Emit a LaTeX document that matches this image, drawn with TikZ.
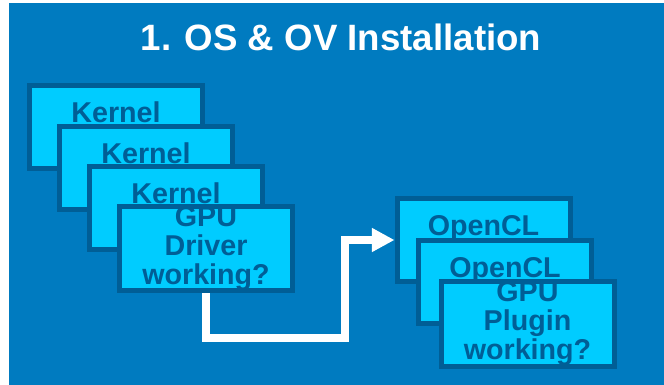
\documentclass[tikz,border=0pt]{standalone}
\usepackage{fontspec}
\setmainfont{Liberation Sans}
\usetikzlibrary{arrows.meta}

\definecolor{slideblue}{RGB}{0,123,192}
\definecolor{boxcyan}{RGB}{0,204,255}
\definecolor{boxdark}{RGB}{0,94,150}

\begin{document}
\begin{tikzpicture}[x=0.75pt,y=-0.75pt,
    stackbox/.style={draw=boxdark,fill=boxcyan,line width=3.75pt,
      minimum width=129.75pt,minimum height=62.25pt,inner sep=0pt,
      align=center,text=boxdark,
      font=\fontsize{21.5pt}{21.75pt}\selectfont\bfseries},
    flowarrow/.style={draw=white,line width=6pt,line join=miter,
      -{Triangle[length=17pt,width=17pt]}}]
    \useasboundingbox (0,0) rectangle (664,385);
    \fill[white] (0,0) rectangle (664,385);
    \fill[slideblue] (9,3) rectangle (664,385);

    \node[white,font=\fontsize{27.5pt}{30pt}\selectfont\bfseries,anchor=base]
      (title) at (341,51) {1. OS \& OV Installation};

    % driver side
    \node[stackbox] (L1) at (116,127) {Kernel\\~};
    \node[stackbox] (L2) at (146,167.5) {Kernel\\~};
    \node[stackbox] (L3) at (176,208) {Kernel\\~};
    \node[stackbox] (L4) at (206,248.5) {GPU\\Driver\\working?};

    % plugin side
    \node[stackbox] (R1) at (483.5,240) {OpenCL\\~};
    \node[stackbox] (R2) at (505,282) {OpenCL\\~};
    \node[stackbox] (R3) at (527.5,324) {GPU\\Plugin\\working?};

    \coordinate (turn) at (345,338);
    \draw[flowarrow] (L4.south) |- (turn) |- (R1.west);
\end{tikzpicture}
\end{document}
